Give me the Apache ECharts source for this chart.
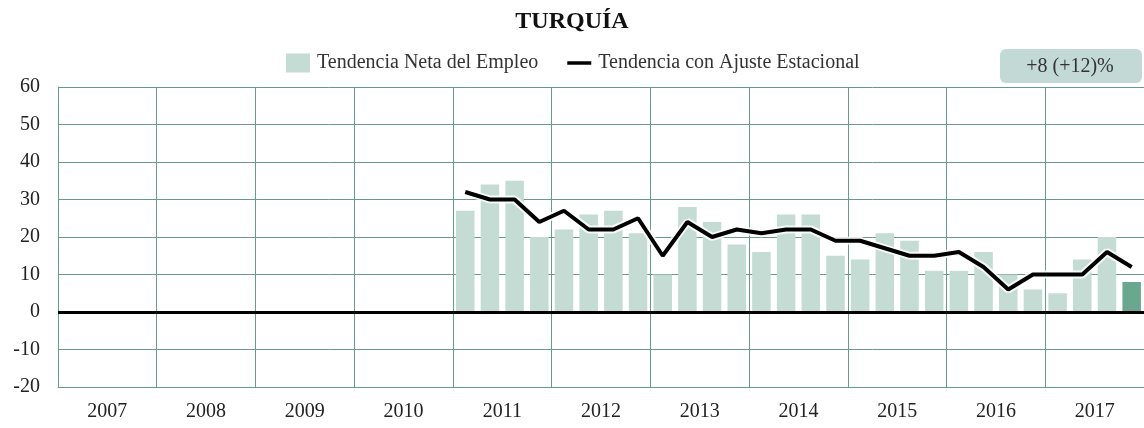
<!DOCTYPE html>
<html>
<head>
<meta charset="utf-8">
<script src="https://cdn.jsdelivr.net/npm/echarts@6/dist/echarts.min.js"></script>
<style>
  html, body { margin: 0; padding: 0; background: #fff; }
  #chart { width: 1144px; height: 428px; }
</style>
</head>
<body>
<div id="chart"></div>
<script>
// Years shown on the axis, and the quarters behind them
const years = ['2007', '2008', '2009', '2010', '2011', '2012', '2013', '2014', '2015', '2016', '2017'];
const quarterNames = ['T1', 'T2', 'T3', 'T4'];
const yTicks = [-20, -10, 0, 10, 20, 30, 40, 50, 60];

// Survey starts in 2011 Q1; earlier years have no data
const firstDataYear = '2011';
// Net employment outlook, 2011 Q1 .. 2017 Q4
const netOutlook = [27, 34, 35, 20, 22, 26, 27, 21, 10, 28, 24, 18, 16, 26, 26, 15,
                    14, 21, 19, 11, 11, 16, 10, 6, 5, 14, 20, 8];
// Seasonally adjusted outlook, 2011 Q1 .. 2017 Q4
const adjustedOutlook = [32, 30, 30, 24, 27, 22, 22, 25, 15, 24, 20, 22, 21, 22, 22, 19,
                         19, 17, 15, 15, 16, 12, 6, 10, 10, 10, 16, 12];

const headline = '+8 (+12)%';

const quarters = [];
years.forEach(y => quarterNames.forEach(q => quarters.push(y + ' ' + q)));
const lead = years.indexOf(firstDataYear) * quarterNames.length;
const pad = arr => new Array(lead).fill(null).concat(arr);

const gridColor = '#679a8b';
const barColor = '#c4dcd3';
const lastBarColor = '#6aa78f';
const serif = '"Liberation Serif", "DejaVu Serif", serif';

const barData = pad(netOutlook).map((v, i, a) =>
  i === a.length - 1 ? { value: v, itemStyle: { color: lastBarColor } } : v);

const chart = echarts.init(document.getElementById('chart'), null, { renderer: 'canvas' });
chart.setOption({
  animation: false,
  backgroundColor: '#ffffff',
  title: {
    text: 'TURQUÍA',
    left: 'center',
    top: 5,
    textStyle: { fontFamily: serif, fontSize: 24, fontWeight: 'bold', color: '#111' }
  },
  legend: {
    top: 48,
    left: 281,
    itemGap: 29,
    itemWidth: 24,
    itemHeight: 19,
    textStyle: { fontFamily: serif, fontSize: 20, color: '#333', padding: [0, 0, 0, 2] },
    data: [
      { name: 'Tendencia Neta del Empleo', icon: 'rect' },
      { name: 'Tendencia con Ajuste Estacional', icon: 'path://M0 0H24V3.5H0Z' }
    ]
  },
  grid: { left: 58, right: 0, top: 87, bottom: 41 },
  xAxis: [
    {
      type: 'category',
      data: years,
      boundaryGap: true,
      position: 'bottom',
      axisLine: { onZero: false, lineStyle: { color: gridColor, width: 1 } },
      axisTick: { show: false },
      axisLabel: { fontFamily: serif, fontSize: 20, color: '#222', margin: 15 },
      splitLine: { show: true, interval: 0, lineStyle: { color: gridColor, width: 1 } }
    },
    {
      type: 'category',
      data: quarters,
      boundaryGap: true,
      show: false
    }
  ],
  yAxis: {
    type: 'value',
    min: yTicks[0],
    max: yTicks[yTicks.length - 1],
    interval: 10,
    axisLine: { show: true, lineStyle: { color: gridColor, width: 1 } },
    axisTick: { show: false },
    axisLabel: {
      fontFamily: serif, fontSize: 20, color: '#222', margin: 18,
      verticalAlign: 'middle', padding: [0, 0, 5, 0],
      formatter: v => String(v)
    },
    splitLine: { lineStyle: { color: gridColor, width: 1 } }
  },
  series: [
    {
      name: 'Tendencia Neta del Empleo',
      type: 'bar',
      xAxisIndex: 1,
      data: barData,
      barCategoryGap: '25%',
      itemStyle: { color: barColor },
      markLine: {
        silent: true,
        symbol: 'none',
        label: { show: false },
        lineStyle: { color: '#000', width: 3, type: 'solid' },
        data: [{ yAxis: 0 }]
      }
    },
    {
      // white halo under the trend line
      type: 'line',
      xAxisIndex: 1,
      data: pad(adjustedOutlook),
      symbol: 'none',
      silent: true,
      lineStyle: { color: '#ffffff', width: 8, opacity: 0.85 },
      z: 3
    },
    {
      name: 'Tendencia con Ajuste Estacional',
      type: 'line',
      xAxisIndex: 1,
      data: pad(adjustedOutlook),
      symbol: 'none',
      lineStyle: { color: '#000', width: 4 },
      itemStyle: { color: '#000' },
      z: 4
    }
  ],
  graphic: [
    {
      type: 'rect',
      x: 1000,
      y: 49,
      shape: { x: 0, y: 0, width: 142, height: 34, r: 6 },
      style: { fill: '#c3d9d5' },
      z: 10
    },
    {
      type: 'text',
      x: 1070,
      y: 67,
      style: {
        text: headline,
        align: 'center',
        verticalAlign: 'middle',
        font: '20px "Liberation Serif", serif',
        fill: '#333'
      },
      z: 11
    }
  ]
});
</script>
</body>
</html>
